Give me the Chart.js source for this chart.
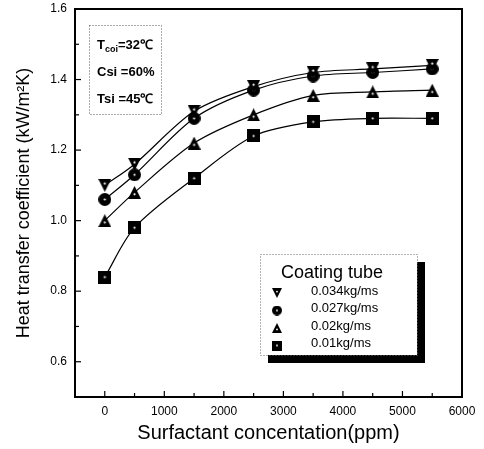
<!DOCTYPE html>
<html>
<head>
<meta charset="utf-8">
<script src="https://cdn.jsdelivr.net/npm/chart.js@4/dist/chart.umd.min.js"></script>
<style>
  html, body { margin: 0; padding: 0; background: #fff; }
  #wrap { width: 484px; height: 449px; }
</style>
</head>
<body>
<div id="wrap"><canvas id="myChart" width="484" height="449"></canvas></div>
<script>
const concentration = [0, 500, 1500, 2500, 3500, 4500, 5500];
const flow034 = [1.10, 1.16, 1.31, 1.38, 1.42, 1.43, 1.44];
const flow027 = [1.06, 1.13, 1.29, 1.37, 1.41, 1.42, 1.43];
const flow020 = [1.00, 1.08, 1.22, 1.30, 1.355, 1.365, 1.37];
const flow010 = [0.84, 0.98, 1.12, 1.24, 1.28, 1.29, 1.29];
const seriesLabels = ["0.034kg/ms", "0.027kg/ms", "0.02kg/ms", "0.01kg/ms"];
const shapes = ["down", "circle", "up", "square"];
const xTickLabels = ["0", "1000", "2000", "3000", "4000", "5000", "6000"];
const yTickLabels = ["0.6", "0.8", "1.0", "1.2", "1.4", "1.6"];
const FONT = "'Liberation Sans', Arial, sans-serif";

// black marker with the little white dot in the middle
function marker(shape, s) {
  const c = document.createElement("canvas");
  c.width = c.height = s;
  const g = c.getContext("2d");
  g.fillStyle = "#000";
  g.beginPath();
  let cy = s / 2;
  if (shape === "circle") {
    g.arc(s / 2, s / 2, s / 2, 0, Math.PI * 2);
  } else if (shape === "square") {
    g.rect(0, 0, s, s);
  } else if (shape === "up") {
    g.moveTo(s / 2, 0); g.lineTo(s, s); g.lineTo(0, s); g.closePath();
    cy = s * 0.64;
  } else {
    g.moveTo(0, 0); g.lineTo(s, 0); g.lineTo(s / 2, s); g.closePath();
    cy = s * 0.36;
  }
  g.fill();
  g.fillStyle = "#fff";
  g.beginPath();
  g.arc(s / 2, cy, s > 10 ? 1.1 : 0.9, 0, Math.PI * 2);
  g.fill();
  return c;
}

const values = [flow034, flow027, flow020, flow010];
const datasets = values.map((v, i) => ({
  label: seriesLabels[i],
  data: concentration.map((x, j) => ({ x: x, y: v[j] })),
  borderColor: "#000",
  borderWidth: 1.2,
  tension: 0.3,
  pointStyle: marker(shapes[i], 13),
  pointRadius: 6,
  fill: false,
}));

const framePlugin = {
  id: "frame",
  afterDraw(chart) {
    const { ctx, chartArea: a, scales } = chart;
    ctx.save();
    // frame
    ctx.strokeStyle = "#000";
    ctx.lineWidth = 2;
    ctx.strokeRect(a.left, a.top, a.right - a.left, a.bottom - a.top);
    // inner ticks
    ctx.lineWidth = 1.2;
    scales.x.ticks.forEach((t) => {
      const px = scales.x.getPixelForValue(t.value);
      const len = t.value % 1000 === 0 ? 6 : 4;
      ctx.beginPath(); ctx.moveTo(px, a.bottom); ctx.lineTo(px, a.bottom - len); ctx.stroke();
    });
    scales.y.ticks.forEach((t) => {
      const py = scales.y.getPixelForValue(t.value);
      const len = Math.round(t.value * 10) % 2 === 0 ? 6 : 4;
      ctx.beginPath(); ctx.moveTo(a.left, py); ctx.lineTo(a.left + len, py); ctx.stroke();
    });

    // condition box
    ctx.setLineDash([1, 2]);
    ctx.strokeStyle = "#555";
    ctx.lineWidth = 1;
    ctx.strokeRect(89.5, 25.5, 72, 89);
    ctx.setLineDash([]);
    ctx.fillStyle = "#000";
    ctx.textBaseline = "alphabetic";
    ctx.textAlign = "left";
    ctx.font = "bold 13px " + FONT;
    ctx.fillText("T", 97, 49);
    let w = ctx.measureText("T").width;
    ctx.font = "bold 9px " + FONT;
    ctx.fillText("coi", 97 + w, 52);
    w += ctx.measureText("coi").width;
    ctx.font = "bold 13px " + FONT;
    ctx.fillText("=32\u2103", 97 + w, 49);
    ctx.fillText("Csi =60%", 97, 76);
    ctx.fillText("Tsi =45\u2103", 97, 103);

    // legend box with shadow
    ctx.fillStyle = "#000";
    ctx.fillRect(268, 262, 157, 101);
    ctx.fillStyle = "#fff";
    ctx.fillRect(260, 254, 157, 101);
    ctx.setLineDash([1, 2]);
    ctx.strokeStyle = "#666";
    ctx.strokeRect(260.5, 254.5, 157, 101);
    ctx.setLineDash([]);
    ctx.fillStyle = "#000";
    ctx.font = "18px " + FONT;
    ctx.fillText("Coating tube", 281, 278);
    ctx.font = "13px " + FONT;
    chart.data.datasets.forEach((ds, i) => {
      const y = 293 + i * 17.5;
      ctx.drawImage(marker(shapes[i], 10), 272, y - 5);
      ctx.textBaseline = "middle";
      ctx.fillText(ds.label, 311, y - 2);
    });
    ctx.restore();
  },
};

Chart.defaults.font.family = FONT;
Chart.defaults.color = "#000";

new Chart(document.getElementById("myChart"), {
  type: "line",
  data: { datasets: datasets },
  options: {
    responsive: false,
    animation: false,
    layout: { padding: { top: 9, right: 22, left: 9, bottom: 0 } },
    plugins: { legend: { display: false }, tooltip: { enabled: false } },
    scales: {
      x: {
        type: "linear",
        min: -500,
        max: 6000,
        afterFit: (s) => { s.height = 52; s.paddingLeft = 0; s.paddingRight = 0; },
        ticks: {
          stepSize: 500,
          autoSkip: false,
          maxRotation: 0,
          padding: 7,
          font: { size: 12 },
          callback: (v) => (v >= 0 && v % 1000 === 0 ? xTickLabels[v / 1000] : ""),
        },
        grid: { display: false, drawTicks: false },
        border: { display: false },
        title: {
          display: true,
          text: "Surfactant concentation(ppm)",
          font: { size: 20 },
          padding: { top: 3 },
        },
      },
      y: {
        min: 0.5,
        max: 1.6,
        afterFit: (s) => { s.width = 66; s.paddingTop = 0; s.paddingBottom = 0; },
        ticks: {
          stepSize: 0.1,
          autoSkip: false,
          padding: 8,
          font: { size: 12 },
          callback: (v) => {
            const k = Math.round(v * 10);
            return k >= 6 && k % 2 === 0 ? yTickLabels[(k - 6) / 2] : "";
          },
        },
        grid: { display: false, drawTicks: false },
        border: { display: false },
        title: {
          display: true,
          text: "Heat transfer coefficient (kW/m\u00B2K)",
          font: { size: 18 },
          padding: { bottom: 2 },
        },
      },
    },
  },
  plugins: [framePlugin],
});
</script>
</body>
</html>
